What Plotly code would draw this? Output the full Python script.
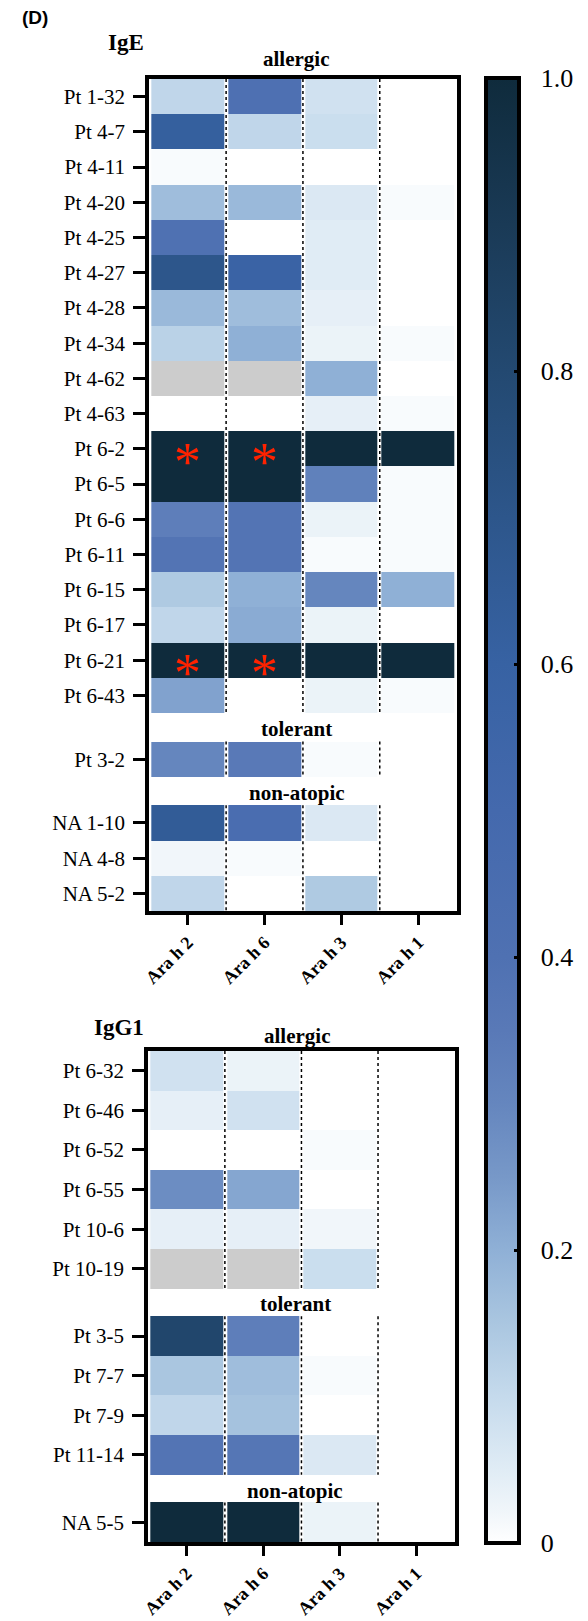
import plotly.graph_objects as go

W, H = 588, 1621

allergens = ["Ara h 2", "Ara h 6", "Ara h 3", "Ara h 1"]

# ---------------- IgE panel data ----------------
ige_allergic = ["Pt 1-32", "Pt 4-7", "Pt 4-11", "Pt 4-20", "Pt 4-25", "Pt 4-27",
                "Pt 4-28", "Pt 4-34", "Pt 4-62", "Pt 4-63", "Pt 6-2", "Pt 6-5",
                "Pt 6-6", "Pt 6-11", "Pt 6-15", "Pt 6-17", "Pt 6-21", "Pt 6-43"]
ige_allergic_vals = [
    [0.11, 0.41, 0.08, 0.00],
    [0.62, 0.11, 0.09, 0.00],
    [0.01, 0.00, 0.00, 0.00],
    [0.17, 0.18, 0.06, 0.01],
    [0.40, 0.00, 0.05, 0.00],
    [0.70, 0.58, 0.05, 0.00],
    [0.18, 0.17, 0.04, 0.00],
    [0.12, 0.20, 0.03, 0.01],
    [None, None, 0.20, 0.00],
    [0.00, 0.00, 0.04, 0.01],
    [1.00, 1.00, 1.00, 1.00],
    [1.00, 1.00, 0.32, 0.01],
    [0.33, 0.38, 0.03, 0.01],
    [0.38, 0.38, 0.01, 0.01],
    [0.14, 0.20, 0.30, 0.20],
    [0.11, 0.21, 0.03, 0.00],
    [1.00, 1.00, 1.00, 1.00],
    [0.23, 0.00, 0.03, 0.01],
]
ige_tolerant = ["Pt 3-2"]
ige_tolerant_vals = [[0.30, 0.35, 0.01, 0.00]]
ige_nonatopic = ["NA 1-10", "NA 4-8", "NA 5-2"]
ige_nonatopic_vals = [
    [0.65, 0.45, 0.06, 0.00],
    [0.02, 0.01, 0.00, 0.00],
    [0.11, 0.00, 0.14, 0.00],
]
ige_significant = [("Pt 6-2", "Ara h 2"), ("Pt 6-2", "Ara h 6"),
                   ("Pt 6-21", "Ara h 2"), ("Pt 6-21", "Ara h 6")]

# ---------------- IgG1 panel data ----------------
igg1_allergic = ["Pt 6-32", "Pt 6-46", "Pt 6-52", "Pt 6-55", "Pt 10-6", "Pt 10-19"]
igg1_allergic_vals = [
    [0.08, 0.03, 0.00, 0.00],
    [0.04, 0.08, 0.00, 0.00],
    [0.00, 0.00, 0.01, 0.00],
    [0.28, 0.22, 0.00, 0.00],
    [0.04, 0.04, 0.02, 0.00],
    [None, None, 0.09, 0.00],
]
igg1_tolerant = ["Pt 3-5", "Pt 7-7", "Pt 7-9", "Pt 11-14"]
igg1_tolerant_vals = [
    [0.82, 0.33, 0.00, 0.00],
    [0.15, 0.17, 0.01, 0.00],
    [0.11, 0.16, 0.00, 0.00],
    [0.38, 0.37, 0.06, 0.00],
]
igg1_nonatopic = ["NA 5-5"]
igg1_nonatopic_vals = [[1.00, 1.00, 0.03, 0.00]]
igg1_significant = []

group_names = ["allergic", "tolerant", "non-atopic"]
cbar_vals = [0, 0.2, 0.4, 0.6, 0.8, 1.0]
cbar_text = ["0", "0.2", "0.4", "0.6", "0.8", "1.0"]

colorscale = [
    [0.00, "#ffffff"], [0.02, "#f1f6fa"], [0.05, "#e0ecf5"], [0.10, "#c5daec"],
    [0.15, "#aac6e0"], [0.20, "#8fb0d6"], [0.25, "#7798c8"], [0.30, "#6586be"],
    [0.35, "#5979b7"], [0.40, "#4f71b2"], [0.50, "#4469ad"], [0.60, "#3762a3"],
    [0.70, "#2d568b"], [0.80, "#234971"], [0.90, "#1a3a56"], [1.00, "#0f2b3c"],
]
GREY = "#cccccc"
SERIF = "Liberation Serif"

# colour-bar geometry (pixels)
CB_X, CB_THICK, CB_TOP, CB_BOT = 485, 33, 78, 1543
cb_common = dict(thicknessmode="pixels", len=(CB_BOT - CB_TOP) / H, lenmode="fraction",
                 x=CB_X / W, xanchor="left", y=1 - (CB_TOP + CB_BOT) / 2 / H,
                 yanchor="middle", xpad=0, ypad=0, tickmode="array",
                 tickvals=cbar_vals, ticktext=cbar_text, tickwidth=3,
                 thickness=CB_THICK, outlinewidth=4, outlinecolor="black")
# main bar with labels (ticks transparent, only used to push labels outward)
cb_main = dict(cb_common, ticks="outside", ticklen=15, tickcolor="rgba(0,0,0,0)",
               tickfont=dict(family=SERIF, size=26, color="black"))
# identical bar drawn on top, adding the inner right-edge ticks
cb_ticks = dict(cb_common, ticks="inside", ticklen=7, tickcolor="black",
                showticklabels=False)


def build(groups, gap):
    """groups: list of (labels, values). Returns edges, z, grey, ticks, gaps, ranges."""
    edges, z, grey = [0.0], [], []
    tickvals, ticktext, gap_centers, ranges = [], [], [], []
    y = 0.0
    for gi, (labels, vals) in enumerate(groups):
        if gi > 0:
            z.append([None] * 4)
            grey.append([None] * 4)
            gap_centers.append(y + gap / 2)
            y += gap
            edges.append(y)
        start = y
        for lab, row in zip(labels, vals):
            z.append(list(row))
            grey.append([1 if v is None else None for v in row])
            tickvals.append(y + 0.5)
            ticktext.append(lab)
            y += 1
            edges.append(y)
        ranges.append((start, y))
    return edges, z, grey, tickvals, ticktext, gap_centers, ranges, y


panels = [
    dict(name="IgE",
         groups=[(ige_allergic, ige_allergic_vals), (ige_tolerant, ige_tolerant_vals),
                 (ige_nonatopic, ige_nonatopic_vals)],
         gap=0.81, sig=ige_significant, cb=cb_main,
         xpx=(144, 455), ypx=(79, 911), title_xy=(120, 43), lab_xy=(292, 59)),
    dict(name="IgG1",
         groups=[(igg1_allergic, igg1_allergic_vals), (igg1_tolerant, igg1_tolerant_vals),
                 (igg1_nonatopic, igg1_nonatopic_vals)],
         gap=0.70, sig=igg1_significant, cb=cb_ticks,
         xpx=(143, 453), ypx=(1051, 1542), title_xy=(113, 1027), lab_xy=(293, 1036)),
]

fig = go.Figure()
shapes, annotations = [], []

for i, p in enumerate(panels):
    ax = "" if i == 0 else str(i + 1)
    xa, ya = "x" + ax, "y" + ax
    edges, z, grey, tv, tt, gaps, ranges, total = build(p["groups"], p["gap"])

    fig.add_trace(go.Heatmap(x=allergens, y=edges, z=z, zmin=0, zmax=1,
                             colorscale=colorscale, showscale=True,
                             colorbar=p["cb"], xgap=4, ygap=0,
                             xaxis=xa, yaxis=ya, hoverongaps=False))
    fig.add_trace(go.Heatmap(x=allergens, y=edges, z=grey, zmin=0, zmax=1,
                             colorscale=[[0, GREY], [1, GREY]], showscale=False,
                             xgap=4, ygap=0, xaxis=xa, yaxis=ya, hoverongaps=False))

    x0, x1 = p["xpx"]
    y0, y1 = p["ypx"]
    axis_common = dict(showline=True, mirror=True, linewidth=4, linecolor="black",
                       ticks="outside", tickwidth=3, tickcolor="black",
                       showgrid=False, zeroline=False, fixedrange=True)
    fig.layout["xaxis" + ax] = dict(
        domain=[x0 / W, x1 / W], anchor=ya, type="category",
        range=[-0.5, 3.5], ticklen=10, tickangle=-45,
        tickfont=dict(family=SERIF, size=18, color="black", weight="bold"),
        **axis_common)
    fig.layout["yaxis" + ax] = dict(
        domain=[1 - y1 / H, 1 - y0 / H], anchor=xa, range=[total, 0],
        tickmode="array", tickvals=tv, ticktext=tt, ticklen=12,
        ticklabelstandoff=4,
        tickfont=dict(family=SERIF, size=21, color="black"),
        **axis_common)

    # dotted separators between allergen columns, only over data rows
    for (ra, rb) in ranges:
        for xs in (0.5, 1.5, 2.5):
            shapes.append(dict(type="line", xref=xa, yref=ya, x0=xs, x1=xs,
                               y0=ra, y1=rb, layer="above",
                               line=dict(color="black", width=1.5, dash="dot")))

    # group labels in the gap rows
    for gname, gc in zip(group_names[1:], gaps):
        annotations.append(dict(text="<b>" + gname + "</b>", xref=xa + " domain",
                                x=0.48, yref=ya, y=gc, showarrow=False,
                                xanchor="center", yanchor="middle", yshift=-2,
                                font=dict(family=SERIF, size=21, color="black")))
    # first group label above the frame
    lx, ly = p["lab_xy"]
    annotations.append(dict(text="<b>" + group_names[0] + "</b>", xref="paper",
                            yref="paper", x=lx / W, y=1 - ly / H, showarrow=False,
                            xanchor="center", yanchor="middle",
                            font=dict(family=SERIF, size=21, color="black")))
    # panel title
    tx, ty = p["title_xy"]
    annotations.append(dict(text="<b>" + p["name"] + "</b>", xref="paper",
                            yref="paper", x=tx / W, y=1 - ty / H, showarrow=False,
                            xanchor="center", yanchor="middle",
                            font=dict(family=SERIF, size=23, color="black")))
    # significance asterisks
    row_pos = dict(zip(tt, tv))
    for pt, al in p["sig"]:
        annotations.append(dict(text="*", xref=xa, yref=ya, x=al, y=row_pos[pt],
                                showarrow=False, xanchor="center", yanchor="middle",
                                yshift=-13,
                                font=dict(family=SERIF, size=54, color="#ff2200")))

annotations.append(dict(text="<b>(D)</b>", xref="paper", yref="paper",
                        x=28 / W, y=1 - 18 / H, showarrow=False,
                        xanchor="center", yanchor="middle",
                        font=dict(family="Liberation Sans", size=19, color="black")))

fig.update_layout(width=W, height=H, margin=dict(l=0, r=0, t=0, b=0),
                  paper_bgcolor="white", plot_bgcolor="white",
                  shapes=shapes, annotations=annotations, showlegend=False)

fig.write_html("out.html")
